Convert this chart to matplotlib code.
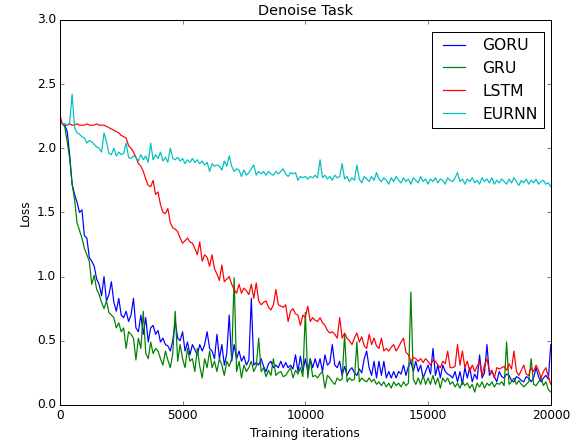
import numpy as np
import matplotlib
matplotlib.use('Agg')
import matplotlib.pyplot as plt

plt.style.use('classic')

# loss logged every 100 training iterations
iterations = np.arange(0, 20001, 100)

goru = [2.22, 2.19, 2.18, 2.13, 1.95, 1.72, 1.64, 1.58, 1.50, 1.52,
        1.32, 1.30, 1.15, 1.12, 1.08, 0.98, 0.94, 0.85, 1.00, 0.81,
        0.86, 0.96, 0.80, 0.73, 0.83, 0.70, 0.68, 0.73, 0.65, 0.70,
        0.83, 0.60, 0.57, 0.70, 0.55, 0.68, 0.49, 0.60, 0.62, 0.55,
        0.58, 0.49, 0.52, 0.47, 0.46, 0.42, 0.50, 0.65, 0.52, 0.50,
        0.57, 0.42, 0.49, 0.39, 0.47, 0.43, 0.39, 0.47, 0.42, 0.47,
        0.57, 0.44, 0.42, 0.36, 0.55, 0.36, 0.47, 0.31, 0.40, 0.70,
        0.34, 0.47, 0.36, 0.42, 0.34, 0.38, 0.31, 0.35, 0.83, 0.31,
        0.33, 0.31, 0.36, 0.30, 0.26, 0.32, 0.34, 0.29, 0.31, 0.29,
        0.34, 0.29, 0.33, 0.29, 0.31, 0.28, 0.39, 0.26, 0.38, 0.26,
        0.36, 0.26, 0.36, 0.29, 0.36, 0.29, 0.36, 0.26, 0.39, 0.31,
        0.33, 0.47, 0.31, 0.29, 0.34, 0.23, 0.30, 0.23, 0.27, 0.29,
        0.25, 0.23, 0.28, 0.25, 0.36, 0.42, 0.29, 0.23, 0.34, 0.21,
        0.34, 0.23, 0.34, 0.21, 0.26, 0.21, 0.26, 0.21, 0.26, 0.24,
        0.31, 0.23, 0.30, 0.34, 0.26, 0.34, 0.26, 0.31, 0.21, 0.26,
        0.31, 0.24, 0.44, 0.23, 0.31, 0.21, 0.31, 0.26, 0.24, 0.23,
        0.21, 0.26, 0.18, 0.26, 0.16, 0.29, 0.21, 0.29, 0.18, 0.24,
        0.20, 0.39, 0.21, 0.25, 0.47, 0.23, 0.26, 0.22, 0.18, 0.26,
        0.22, 0.21, 0.24, 0.23, 0.19, 0.18, 0.22, 0.21, 0.19, 0.18,
        0.22, 0.21, 0.18, 0.21, 0.29, 0.22, 0.18, 0.21, 0.23, 0.20, 0.47]

gru = [2.22, 2.19, 2.17, 2.05, 1.92, 1.72, 1.60, 1.42, 1.36, 1.30,
       1.22, 1.17, 1.12, 0.94, 1.01, 0.90, 0.86, 0.80, 0.75, 0.81,
       0.72, 0.70, 0.68, 0.60, 0.64, 0.57, 0.60, 0.44, 0.57, 0.55,
       0.52, 0.35, 0.52, 0.44, 0.73, 0.40, 0.36, 0.49, 0.40, 0.44,
       0.42, 0.36, 0.31, 0.42, 0.35, 0.29, 0.40, 0.73, 0.34, 0.47,
       0.36, 0.29, 0.44, 0.34, 0.36, 0.26, 0.44, 0.30, 0.21, 0.36,
       0.29, 0.42, 0.29, 0.34, 0.26, 0.36, 0.31, 0.23, 0.34, 0.30,
       0.36, 0.99, 0.26, 0.34, 0.21, 0.31, 0.26, 0.29, 0.34, 0.26,
       0.30, 0.52, 0.26, 0.29, 0.22, 0.27, 0.23, 0.36, 0.23, 0.25,
       0.26, 0.22, 0.23, 0.26, 0.29, 0.21, 0.27, 0.24, 0.29, 0.22,
       0.72, 0.21, 0.36, 0.22, 0.23, 0.21, 0.24, 0.26, 0.13, 0.23,
       0.21, 0.18, 0.16, 0.21, 0.19, 0.20, 0.55, 0.18, 0.21, 0.19,
       0.20, 0.49, 0.18, 0.21, 0.19, 0.18, 0.21, 0.18, 0.20, 0.16,
       0.18, 0.15, 0.18, 0.14, 0.17, 0.13, 0.18, 0.15, 0.17, 0.14,
       0.18, 0.15, 0.17, 0.88, 0.20, 0.16, 0.21, 0.16, 0.23, 0.16,
       0.21, 0.16, 0.23, 0.16, 0.21, 0.13, 0.21, 0.18, 0.21, 0.16,
       0.18, 0.14, 0.17, 0.13, 0.18, 0.15, 0.17, 0.13, 0.16, 0.10,
       0.17, 0.14, 0.18, 0.13, 0.17, 0.15, 0.18, 0.14, 0.17, 0.16,
       0.18, 0.15, 0.49, 0.16, 0.18, 0.21, 0.16, 0.19, 0.16, 0.14,
       0.16, 0.18, 0.36, 0.16, 0.15, 0.18, 0.21, 0.15, 0.18, 0.12, 0.10]

lstm = [2.26, 2.19, 2.18, 2.18, 2.19, 2.18, 2.18, 2.19, 2.18, 2.18,
        2.18, 2.19, 2.18, 2.18, 2.18, 2.19, 2.18, 2.18, 2.18, 2.17,
        2.16, 2.15, 2.14, 2.13, 2.12, 2.10, 2.09, 2.08, 2.02, 2.00,
        1.97, 1.93, 1.88, 1.86, 1.82, 1.76, 1.71, 1.70, 1.75, 1.64,
        1.66, 1.56, 1.50, 1.49, 1.53, 1.42, 1.38, 1.37, 1.35, 1.30,
        1.26, 1.28, 1.30, 1.27, 1.26, 1.22, 1.17, 1.27, 1.12, 1.17,
        1.15, 1.08, 1.17, 1.06, 1.02, 0.97, 1.09, 0.96, 0.98, 1.00,
        0.94, 0.90, 0.87, 0.94, 0.87, 0.91, 0.89, 0.86, 0.94, 0.83,
        0.95, 0.81, 0.78, 0.80, 0.81, 0.76, 0.74, 0.78, 0.90, 0.78,
        0.77, 0.76, 0.78, 0.65, 0.73, 0.75, 0.71, 0.70, 0.62, 0.70,
        0.68, 0.77, 0.65, 0.68, 0.66, 0.65, 0.68, 0.64, 0.62, 0.58,
        0.56, 0.57, 0.55, 0.52, 0.68, 0.52, 0.56, 0.52, 0.50, 0.47,
        0.52, 0.56, 0.49, 0.53, 0.46, 0.44, 0.55, 0.47, 0.52, 0.46,
        0.44, 0.52, 0.42, 0.44, 0.42, 0.45, 0.47, 0.42, 0.45, 0.49,
        0.52, 0.41, 0.39, 0.34, 0.37, 0.36, 0.34, 0.36, 0.33, 0.36,
        0.34, 0.31, 0.35, 0.34, 0.31, 0.29, 0.34, 0.32, 0.42, 0.29,
        0.29, 0.30, 0.47, 0.31, 0.42, 0.29, 0.34, 0.26, 0.31, 0.26,
        0.30, 0.34, 0.23, 0.31, 0.36, 0.26, 0.27, 0.21, 0.29, 0.28,
        0.29, 0.30, 0.27, 0.32, 0.28, 0.42, 0.26, 0.23, 0.27, 0.31,
        0.24, 0.23, 0.29, 0.26, 0.31, 0.27, 0.21, 0.26, 0.29, 0.22, 0.16]

eurnn = [2.20, 2.19, 2.19, 2.18, 2.20, 2.42, 2.16, 2.12, 2.11, 2.09,
         2.08, 2.04, 2.06, 2.05, 2.03, 2.01, 2.00, 1.97, 2.12, 2.05,
         1.96, 1.95, 2.00, 1.94, 1.97, 1.95, 1.96, 2.04, 1.93, 1.92,
         1.94, 1.93, 1.90, 1.95, 1.91, 1.94, 1.89, 2.04, 1.91, 1.95,
         1.92, 1.97, 1.90, 1.93, 1.89, 2.00, 1.92, 1.91, 1.93, 1.90,
         1.92, 1.88, 1.91, 1.89, 1.92, 1.89, 1.91, 1.88, 1.90, 1.87,
         1.89, 1.82, 1.88, 1.86, 1.87, 1.86, 1.83, 1.90, 1.86, 1.94,
         1.86, 1.82, 1.84, 1.83, 1.78, 1.83, 1.79, 1.81, 1.84, 1.87,
         1.79, 1.82, 1.80, 1.82, 1.79, 1.82, 1.80, 1.79, 1.82, 1.80,
         1.82, 1.84, 1.80, 1.78, 1.81, 1.80, 1.81, 1.75, 1.78, 1.77,
         1.78, 1.76, 1.78, 1.77, 1.79, 1.77, 1.91, 1.77, 1.79, 1.76,
         1.78, 1.75, 1.79, 1.77, 1.78, 1.88, 1.76, 1.78, 1.74, 1.77,
         1.75, 1.87, 1.76, 1.73, 1.78, 1.76, 1.74, 1.78, 1.75, 1.81,
         1.76, 1.74, 1.77, 1.75, 1.72, 1.77, 1.74, 1.78, 1.75, 1.73,
         1.77, 1.74, 1.76, 1.72, 1.77, 1.75, 1.73, 1.78, 1.74, 1.76,
         1.72, 1.76, 1.74, 1.77, 1.73, 1.76, 1.75, 1.72, 1.77, 1.75,
         1.74, 1.77, 1.81, 1.74, 1.76, 1.72, 1.76, 1.74, 1.77, 1.73,
         1.75, 1.72, 1.77, 1.74, 1.76, 1.73, 1.77, 1.72, 1.75, 1.73,
         1.76, 1.74, 1.72, 1.76, 1.73, 1.77, 1.74, 1.71, 1.75, 1.73,
         1.76, 1.72, 1.75, 1.73, 1.76, 1.72, 1.74, 1.75, 1.72, 1.73, 1.70]

fig = plt.figure(figsize=(8, 6.1), dpi=72.625, facecolor='white')
ax = fig.add_axes([0.103, 0.086, 0.845, 0.869])

ax.plot(iterations, goru, 'b', lw=1.2, label='GORU')
ax.plot(iterations, gru, 'g', lw=1.2, label='GRU')
ax.plot(iterations, lstm, 'r', lw=1.2, label='LSTM')
ax.plot(iterations, eurnn, 'c', lw=1.2, label='EURNN')

ax.set_xlim(0, 20000)
ax.set_ylim(0, 3.0)
ax.set_xticks([0, 5000, 10000, 15000, 20000])
ax.set_title('Denoise Task')
ax.set_xlabel('Training iterations')
ax.set_ylabel('Loss')
ax.legend(loc='upper right', bbox_to_anchor=(0.986, 0.969), borderaxespad=0,
          fontsize=15.5)

fig.savefig('out.png', dpi=72.625, facecolor='white')
